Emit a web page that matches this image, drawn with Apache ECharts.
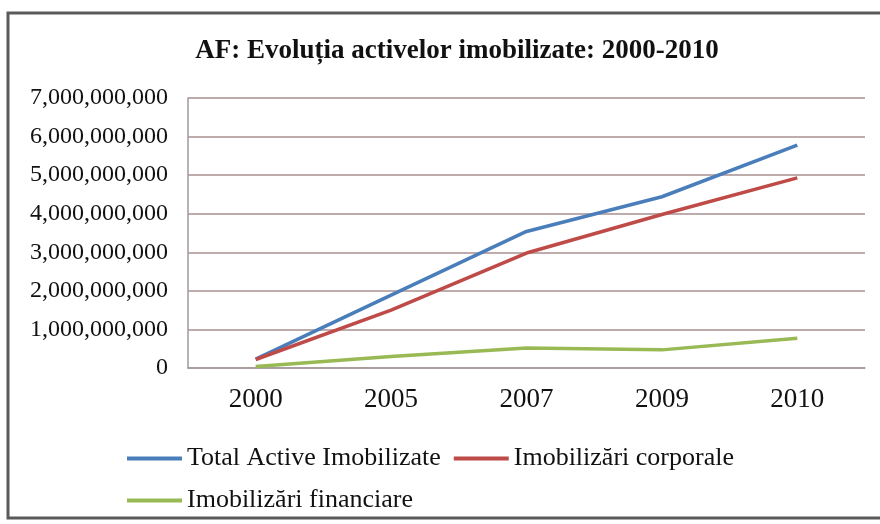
<!DOCTYPE html>
<html lang="ro">
<head>
    <meta charset="UTF-8">
    <title>AF: Evoluția activelor imobilizate</title>
    <script src="https://cdn.jsdelivr.net/npm/echarts@6/dist/echarts.min.js"></script>
    <style>
        html, body { margin: 0; padding: 0; background: #fff; }
    </style>
</head>
<body>
<div id="container" style="width:880px;height:524px;"></div>
<script>
    // ani
    var years = ['2000', '2005', '2007', '2009', '2010'];
    // valori (lei)
    var totalActive = [230000000, 1890000000, 3540000000, 4440000000, 5780000000];
    var imobCorporale = [220000000, 1500000000, 2980000000, 3980000000, 4930000000];
    var imobFinanciare = [40000000, 300000000, 520000000, 470000000, 770000000];

    var serif = '"Liberation Serif", "DejaVu Serif", serif';

    var myChart = echarts.init(document.getElementById('container'));
    var option = {
        backgroundColor: '#ffffff',
        animation: false,
        title: {
            text: 'AF: Evoluția activelor imobilizate: 2000-2010',
            left: 452,
            textAlign: 'center',
            top: 33,
            textStyle: {
                fontFamily: serif,
                fontWeight: 'bold',
                fontSize: 27,
                color: '#111'
            }
        },
        graphic: [{
            type: 'rect',
            shape: {x: 8, y: 13, width: 880, height: 505},
            style: {fill: 'none', stroke: '#5a5a5a', lineWidth: 3},
            silent: true
        }],
        legend: {
            left: 127,
            top: 444,
            width: 640,
            padding: 0,
            icon: 'rect',
            itemWidth: 55,
            itemHeight: 4,
            itemGap: 13,
            textStyle: {
                fontFamily: serif,
                fontSize: 26,
                color: '#111',
                lineHeight: 29
            },
            data: ['Total Active Imobilizate', 'Imobilizări corporale', 'Imobilizări financiare']
        },
        grid: {
            left: 188,
            right: 15,
            top: 98,
            bottom: 156
        },
        xAxis: {
            type: 'category',
            data: years,
            axisLine: {lineStyle: {color: '#a09a9a', width: 1.5}},
            axisTick: {show: false},
            axisLabel: {
                fontFamily: serif,
                fontSize: 27,
                color: '#111',
                margin: 18
            }
        },
        yAxis: {
            type: 'value',
            min: 0,
            max: 7000000000,
            interval: 1000000000,
            axisLine: {show: true, lineStyle: {color: '#a09a9a', width: 1.5}},
            axisTick: {show: false},
            splitLine: {lineStyle: {color: '#a89090', width: 1.5}},
            axisLabel: {
                fontFamily: serif,
                fontSize: 24,
                color: '#111',
                margin: 20,
                formatter: function (v) {
                    return v.toString().replace(/\B(?=(\d{3})+(?!\d))/g, ',');
                }
            }
        },
        series: [
            {
                name: 'Total Active Imobilizate',
                type: 'line',
                data: totalActive,
                showSymbol: false,
                lineStyle: {width: 3.5, color: '#4a7ebb'},
                itemStyle: {color: '#4a7ebb'}
            },
            {
                name: 'Imobilizări corporale',
                type: 'line',
                data: imobCorporale,
                showSymbol: false,
                lineStyle: {width: 3.5, color: '#be4b48'},
                itemStyle: {color: '#be4b48'}
            },
            {
                name: 'Imobilizări financiare',
                type: 'line',
                data: imobFinanciare,
                showSymbol: false,
                lineStyle: {width: 3.5, color: '#98b954'},
                itemStyle: {color: '#98b954'}
            }
        ]
    };
    myChart.setOption(option);
</script>
</body>
</html>
